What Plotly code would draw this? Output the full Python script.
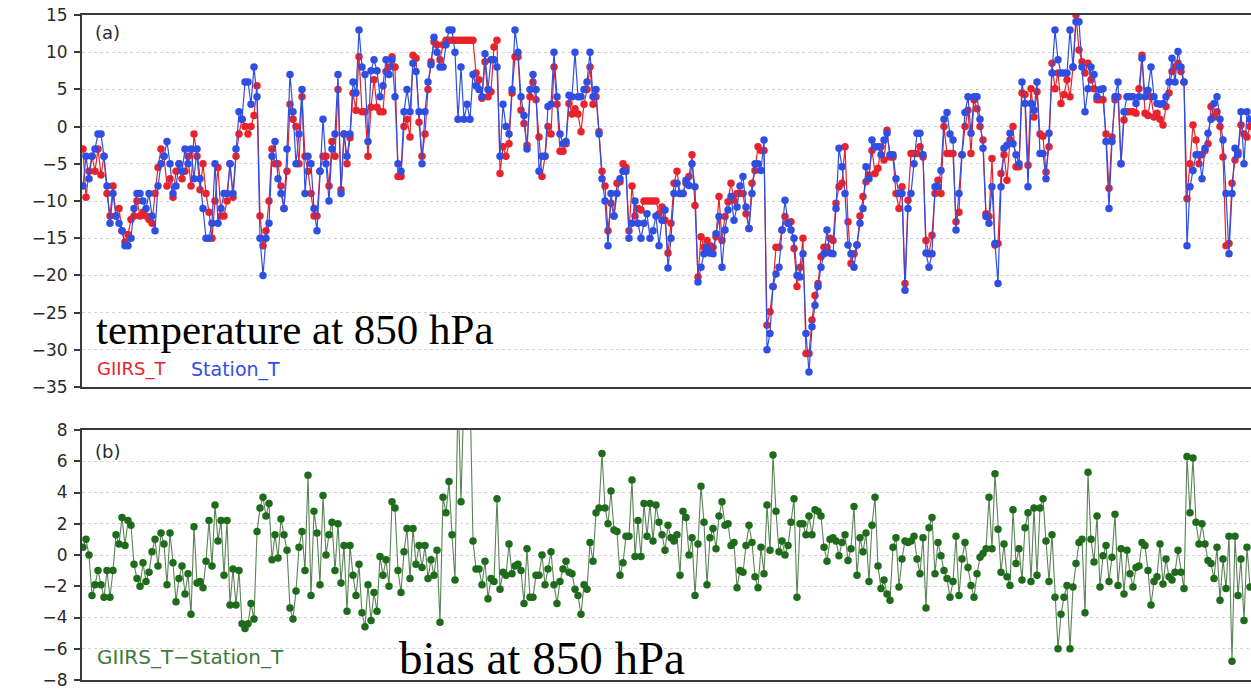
import plotly.graph_objects as go

# ---------------- data ----------------
station_t = [
    -8, -4, -7, -4, -3, -1, -1, -4, -8, -13,
    -9, -12, -13, -14, -16, -16, -15, -11, -9, -9,
    -10, -11, -9, -12, -14, -8, -5, -4, -2, -5,
    -9, -8, -5, -6, -3, -5, -3, -7, -3, -7,
    -11, -15, -15, -13, -5, -13, -11, -9, -9, -5,
    -9, -3, 2, 1, 6, 6, 3, 8, 4, -15,
    -20, -15, -13, -4, -2, -7, -9, -11, -3, 7,
    2, -5, -1, 5, -9, -4, -5, -11, -14, -6,
    1, -5, -10, -3, -1, 7, -9, -1, -4, -1,
    6, 4.5, 13, 8, 7, -2, 7.5, 9, 7.5, 4,
    5.5, 9, 7, 9, 4, -5, -6, 2, 5, 2,
    8.5, 7.4, 2, -5, 2, 6, 8.3, 12, 10, 8,
    8, 11, 13, 13, 10, 1, 8, 1, 3, 1,
    7, 5.5, 5, 4, 9.8, 5, 9, 9, 8, -4,
    3, 0, -1, 5, 13, 10, 4, 1.5, -3, 5,
    7, 5, -6, -4, -4, 2.7, 3, 10, 4, -1,
    -2.3, -2, 4.2, 4, 10, 4, 4, 5, 6, 10,
    4, 5, -1, -7, -10, -16, -9, -12, -9, -7,
    -6, -6, -15, -13, -10, -13, -15, -13, -11.7, -15,
    -14, -12, -16, -12.6, -11.2, -19, -15, -9, -7.6, -9,
    -9, -7.2, -7.9, -5, -8.1, -20.9, -18.9, -17.1, -16.2, -17,
    -17.1, -14.4, -12.1, -18.9, -13.9, -11.2, -9.4, -12.6, -10.8, -8,
    -6.7, -10.8, -13.7, -9, -5, -5, -5.9, -1.8, -30, -27.8,
    -21.5, -19.8, -18.9, -13.9, -9.9, -13, -13.9, -15, -20, -20.2,
    -17.1, -27.8, -33, -26.9, -24, -21.5, -18.9, -17.1, -13.9, -17,
    -17.1, -11, -2.9, -5.4, -9, -15.9, -17.1, -18.9, -15.9, -13,
    -11, -5.4, -7, -1.8, -2.7, -2.7, -3.8, -1.8, -0.9, -3.8,
    -3.8, -7, -9, -9, -22, -11, -9, -5, -0.9, -0.9,
    -3.8, -17, -18.9, -17.1, -8.1, -8.1, -5.9, 1, 1.9, -1,
    -1.8, -13.9, -9, -3.8, 1.9, 4, -0.9, 4, 4, 1,
    -2.9, -12.1, -13, -8.1, -15.7, -21.1, -8.1, -2.9, -2.5, -0.9,
    -2.3, -3.8, -5, 6, 3.1, -8.1, 3.1, 2.2, 6, -3.6,
    -3.6, -7, -0.9, 7.2, 13, 9, 7.2, 7.2, 7.2, 13,
    8, 14.1, 14.1, 8, 2, 5.1, 8, 7, 4, 5,
    5.1, -2, -11, -2, 4, 6, -5, 2, 4, 4,
    4, 3.1, 4, 9.2, 4, 4.9, 8, 4, 3.1, 3,
    3.1, 4, 6, 9.2, 6, 10.1, 8, 6, -16, -8.1,
    -5.9, -3.8, -3.8, -7, -2.9, -0.9, 1, 3.1, 4, 1,
    -1.8, -9, -17.1, -9, -2.9, -3.8, 2, -5, 2, 1,
]

giirs_t = [
    -3, -9.5, -6, -4, -6, -3, -6.5, -4, -9, -12,
    -8, -12, -11, -14, -15.5, -14.5, -12.5, -12, -10, -12,
    -11.5, -12, -12.5, -13, -9, -5.5, -3, -4, -8, -7,
    -9.5, -6, -5, -7, -6, -4, -8, -1, -4, -8.5,
    -5, -9, -11.5, -15, -10, -5.5, -12, -12, -10, -5,
    -9.5, -4, -1, 1, 0, -1, 0, 1.5, 5.5, -12,
    -16, -14, -10, -3, -5, -5, -8, -11, -6, 3,
    1, 0, -5, 4, -4, -6, -9, -12, -12, -6,
    -4, -4, -8, -2, -4, 5, -8.5, -1, -5, -1.5,
    4.5, 2.2, 9.4, 2, 2, -4, 2.6, 6.3, 2.6, 2,
    2, 7.4, 8, 9.4, 8, -6.7, -6.7, 0, 1, -1.4,
    9.6, 9.2, 0.6, -4, -1, 5, 8.7, 11.4, 11, 9,
    11, 11.6, 11.6, 11.6, 11.6, 11.6, 11.6, 11.6, 11.6, 11.6,
    11.6, 7.2, 6.3, 3.8, 8.7, 4, 4.7, 10.7, 11.6, -6.3,
    -2.7, -4, -2.3, 4.5, 9.4, 9.4, 2.2, 0.4, -2.5, 4,
    6, 3.6, -1.4, -6.7, -4, 0, -1, 8, 3, -3.3,
    -3.3, -2.3, 3.1, 1.7, 2.4, 1.7, -0.7, 3, 5, 8,
    3, 4, -0.7, -6, -8, -14, -10.3, -12, -7.6, -7.4,
    -5, -5.5, -14, -8, -12, -11, -11.2, -10, -10, -10,
    -10, -10, -11.7, -10.8, -12.6, -17, -13, -7.6, -6, -9,
    -9, -7.6, -6.7, -3.8, -10.6, -20.2, -14.8, -16.2, -15.3, -16,
    -16.2, -14.8, -9.4, -15.3, -12.1, -10.1, -7.6, -9.9, -9.0, -9,
    -9, -11.7, -13.7, -7.6, -5.9, -2.7, -3.2, -3.2, -26.7, -24.9,
    -21.5, -16.2, -16.2, -13.9, -12.1, -13, -12.8, -16.4, -21.5, -18.9,
    -15, -30.5, -30.5, -26, -22.7, -21.1, -17.5, -16.2, -16.2, -15,
    -15.3, -10.3, -8.1, -7.6, -2.7, -12.8, -18.4, -17.1, -15.9, -12,
    -9.4, -7.4, -6.5, -3.2, -6.3, -5.6, -2.7, -4.5, -0.5, -4.1,
    -4.1, -9, -11, -8.1, -21.1, -9.9, -3.6, -3.6, -3.6, -2.7,
    -4.1, -15.3, -17.1, -14.6, -9, -7.2, -9, 0, -3.6, -3.6,
    -3.6, -12.8, -11.5, -3.8, 0, 2.2, -3.6, 3.6, 2.4, 0,
    -1.8, -11.7, -12.1, -4.3, -15.9, -15.7, -6.3, -3.8, -7.2, -1.8,
    0, -5.4, -5.4, 4.5, 4.3, -5.2, 5.1, 1.3, 4.7, -1,
    -1.3, -6.1, -2.7, 8.5, 5.1, 7.2, 3.1, 4.3, 6.3, 4,
    8, 15, 10.3, 8.7, 7.2, 8.5, 6.3, 5.1, 3.6, 3.6,
    3.6, -1, -8.3, -1.4, 3.6, 4, -5, 0.9, 2, 2,
    2, 1.8, 5.1, 9.6, 1.8, 1.5, 4, 1.3, 1.8, 1,
    0.2, 2.7, 4.5, 7.4, 8, 8.5, 7.4, 6, -9.7, -5,
    0.2, -1.8, -5, -3.8, -3.2, -2.3, 2.7, 1.3, 2, 0,
    -4.1, -16, -15.7, -7.6, -4.5, -3.4, 0.2, -1, -1.4, 0,
]

bias_t = [
    0.5, 1, 0, -2.6, -1.9, -1, -1.9, -2.7, -1, -2.7,
    -1, 1.3, 0.7, 2.4, 0.6, 2.2, 1.9, -0.6, -1.5, -2,
    -0.5, -1.7, -1.1, 0.2, 1, -0.7, 1.4, 0.7, -1.9, 1.4,
    -0.5, -3, -1.5, -0.7, -2.5, -1.2, -3.8, 1.8, -1.8, -1.7,
    -2.1, -0.4, 2.2, -0.7, 3.2, 0.9, 2.2, -1.3, 2.2, -3.2,
    -0.9, -3.2, -1, -4.4, -4.7, -4.4, -3.1, -4.1, 1.5, 3,
    3.7, 2.5, 3.3, -0.3, 1.3, -0.2, 2.3, 1.3, 0.3, -3.4,
    -4.1, -2.3, 0.5, 1.5, -1, 5.1, -2.6, 2.8, 1.4, -1.9,
    3.8, 0, 1.3, 2.1, -1, 2, -1.8, 0.6, -3.6, 0.6,
    -1.3, -2.6, -0.6, -3.7, -4.6, -1.9, -4.2, -2.4, -3.6, -0.1,
    -1.3, -0.3, -2, 3.4, 3, -1, -2.4, 0.2, 1.7, -1.5,
    1.7, -0.6, 0.6, -0.8, 0.6, -1.5, -0.3, -1.3, 0.3, -4.3,
    3.7, 2.7, 4.7, 1.3, -1.6, 10.6, 3.4, 10.6, 10.5, 10.6,
    0.9, -0.9, -0.9, -1.9, -0.4, -2.8, -1.5, -1.7, 3.6, -2.2,
    -1.1, -1.3, 0.7, -1.2, -0.7, -0.6, -1, -3.1, 0.4, -2.7,
    -2.7, -1.3, -1.3, 0, -1.9, -0.9, 0.2, -1.9, -3.1, -1.7,
    -0.9, -0.4, -1.1, -1.2, -2.2, -2.6, -3.8, -1.9, -2.2, 0.8,
    -0.4, 2.7, 3, 6.5, 3, 2, 4.1, 1.6, 1.5, -1.3,
    -0.5, 1.2, 1.2, 4.8, -0.1, 2.2, -0.1, 3.3, 1.2, 3.3,
    0.9, 3.2, 2.1, 1.3, 0.3, 1.9, 1.1, 0.9, 1.3, -1.3,
    2.8, 2.4, 0, 1.1, -2.6, 0.7, 4.4, 2.1, -1.9, 1.1,
    1.7, 0.4, 2.5, 3.4, 1.9, 2, 0.6, 0.8, -2.1, -1,
    -1.1, 0.6, 1.9, 0.8, -1.4, -2.1, 0.5, -1.2, 3.2, 0.3,
    6.4, 2.8, 0.2, 0.9, 0, 0.6, 2.1, 3.6, -2.7, 2,
    2, 1.3, 2.5, 1.3, 2.9, 2.8, 2.5, 0.5, -0.4, 1,
    1.1, 0.9, -0.05, 0.8, 1.3, -0.35, 0.4, 3.1, -1.3, 1.1,
    0.2, 1.4, -1.7, 1.9, 3.7, -0.7, -2.15, -1.6, -2.5, -2.9,
    0.5, 1.1, -2.05, -0.25, 0.9, 0.8, 0.9, 1.2, -0.25, -1.2,
    1.1, -3.4, 1.75, 2.4, -1.2, 0.8, -0.05, -1.0, -1.5, -2.7,
    -1.7, 1.2, -2.6, -0.25, 0.8, -0.8, -1.95, -2.7, -1.2, -0.15,
    0.1, 0.4, 3.7, 0.4, 5.2, 1.65, -1.1, 0.7, -1.4, -1.95,
    2.9, -0.55, 0.4, -1.6, 1.75, 2.7, -1.7, 3.0, -1.3, 3.0,
    3.6, 0.9, -1.7, 1.3, -2.7, -6, -3.8, -2.7, -1.95, -6,
    -2.05, -0.55, 0.8, 1.0, -3.7, 5.3, 1.0, -0.45, 2.5, -2.05,
    -0.05, 0.6, -1.7, -0.15, 2.6, -1.95, 0.4, -2.5, 0.3, -1.2,
    -2.05, -0.8, -0.7, 0.8, 0.6, -1.0, -3.2, -1.7, -1.4, 0.7,
    -1.85, -0.25, -1.4, -1.6, -1.1, 0.3, -1.1, -2.15, 6.3, 2.7,
    6.2, 2.1, 0.7, 2.0, 0.7, -0.35, -0.55, -1.5, 0.5, -2.9,
    -0.25, -2.15, 1.2, -6.8, 1.2, -2.6, -0.25, -4.2, 0.5, -2.05,
]

temp_ticks = [15, 10, 5, 0, -5, -10, -15, -20, -25, -30, -35]
bias_ticks = [8, 6, 4, 2, 0, -2, -4, -6, -8]

# ---------------- styling ----------------
W, H = 1251, 689
RED = "#e8232b"
BLUE = "#2f4fe3"
GREEN = "#1f6b1c"
FRAME = "#3a3a3a"
GRID = "#d4d4d4"
TICKFONT = dict(family="DejaVu Sans", size=17, color="#2a2a2a")


def px_x(p):
    return p / W


def px_y(p):
    return 1 - p / H


n = len(station_t)
idx = list(range(1, n + 1))
xr = [0.667, 0.667 + (W - 82) / 3.0]

MS = 7.5
fig = go.Figure()
fig.add_trace(go.Scatter(
    x=idx, y=giirs_t, mode="lines+markers", name="GIIRS_T",
    line=dict(color=RED, width=1.2), marker=dict(color=RED, size=MS),
    xaxis="x", yaxis="y"))
fig.add_trace(go.Scatter(
    x=idx, y=station_t, mode="lines+markers", name="Station_T",
    line=dict(color=BLUE, width=1.2), marker=dict(color=BLUE, size=MS),
    xaxis="x", yaxis="y"))
fig.add_trace(go.Scatter(
    x=list(range(1, len(bias_t) + 1)), y=bias_t, mode="lines+markers",
    name="GIIRS_T-Station_T",
    line=dict(color="#5a8456", width=1.1), marker=dict(color=GREEN, size=MS),
    xaxis="x2", yaxis="y2"))

common_x = dict(range=xr, showline=True, mirror=True, linecolor=FRAME,
                linewidth=2, showticklabels=False, ticks="", showgrid=False,
                zeroline=False, automargin=False)
common_y = dict(showline=True, linecolor=FRAME, linewidth=2, ticks="outside",
                ticklen=6, tickwidth=1.5, tickcolor=FRAME, showgrid=True,
                gridcolor=GRID, griddash="dot", gridwidth=1.2, zeroline=False,
                tickfont=TICKFONT, ticklabelstandoff=3, automargin=False,
                ticklabeloverflow="allow")

fig.update_layout(
    width=W, height=H,
    margin=dict(l=0, r=0, t=0, b=0, autoexpand=False),
    paper_bgcolor="white", plot_bgcolor="white",
    showlegend=False,
    xaxis=dict(domain=[px_x(82), 1.0], anchor="y", **common_x),
    yaxis=dict(domain=[px_y(387), px_y(15)], anchor="x", range=[-35, 15],
               tickvals=temp_ticks, **common_y),
    xaxis2=dict(domain=[px_x(82), 1.0], anchor="y2", **common_x),
    yaxis2=dict(domain=[px_y(680), px_y(430)], anchor="x2", range=[-8, 8],
                tickvals=bias_ticks, **common_y),
)

annotations = [
    dict(text="(a)", x=px_x(93), y=px_y(32), xanchor="left", yanchor="middle",
         font=dict(color="#2a2a2a", family="DejaVu Sans", size=18)),
    dict(text="(b)", x=px_x(93), y=px_y(452), xanchor="left", yanchor="middle",
         font=dict(color="#2a2a2a", family="DejaVu Sans", size=18)),
    dict(text="GIIRS_T", x=px_x(95), y=px_y(369), xanchor="left",
         yanchor="middle", font=dict(color=RED, family="DejaVu Sans", size=18)),
    dict(text="Station_T", x=px_x(189), y=px_y(369), xanchor="left",
         yanchor="middle", font=dict(color=BLUE, family="DejaVu Sans", size=19)),
    dict(text="GIIRS_T\u2212Station_T", x=px_x(95), y=px_y(657),
         xanchor="left", yanchor="middle",
         font=dict(color="#3c7a38", family="DejaVu Sans", size=20)),
    dict(text="temperature at 850 hPa", x=px_x(94), y=px_y(329),
         xanchor="left", yanchor="middle",
         font=dict(color="black", family="Liberation Serif", size=43)),
    dict(text="bias at 850 hPa", x=px_x(397), y=px_y(658),
         xanchor="left", yanchor="middle",
         font=dict(color="black", family="Liberation Serif", size=47)),
]
for a in annotations:
    a.update(xref="paper", yref="paper", showarrow=False)
fig.update_layout(annotations=annotations)

fig.write_html("out.html")
